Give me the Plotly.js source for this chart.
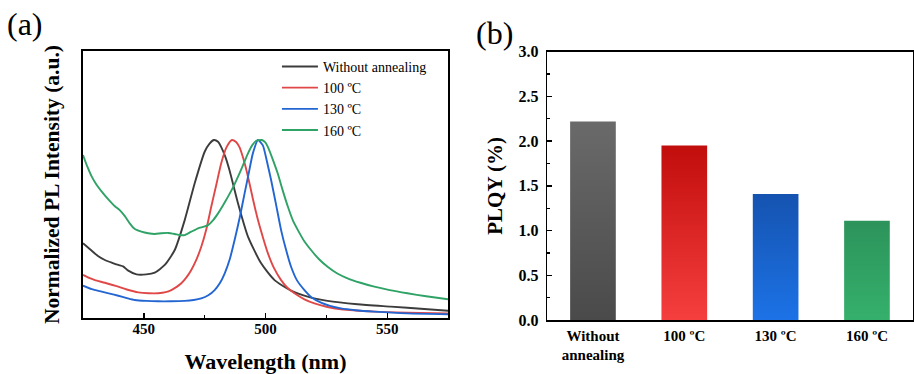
<!DOCTYPE html>
<html>
<head>
<meta charset="utf-8">
<script src="https://cdn.plot.ly/plotly-3.0.1.min.js"></script>
<style>
  html, body { margin: 0; padding: 0; background: #ffffff; }
  #chart { width: 914px; height: 374px; }
</style>
</head>
<body>
<div id="chart"></div>
<script>
// ---------- Panel (a): normalized PL spectra ----------
const seriesNames = ["Without annealing", "100 \u00baC", "130 \u00baC", "160 \u00baC"];

const wlWithout = [425, 428, 431, 434, 437, 439.5, 441.5, 443.6, 447, 451, 454.5, 458.6, 462.7, 466.8, 470.9, 475, 477, 478.8, 480.5, 481.8, 483.5, 485.2, 488.7, 492.8, 498.2, 503.7, 510.5, 517.3, 525.5, 537.8, 551.5, 565.2, 575];
const plWithout = [0.42, 0.385, 0.35, 0.326, 0.31, 0.298, 0.29, 0.266, 0.245, 0.245, 0.255, 0.298, 0.382, 0.55, 0.757, 0.934, 0.98, 1.0, 0.99, 0.96, 0.905, 0.83, 0.644, 0.457, 0.307, 0.213, 0.154, 0.12, 0.096, 0.077, 0.064, 0.051, 0.041];

const wl100 = [425, 427.5, 429.9, 434, 439.5, 443, 447.7, 452, 455.9, 459, 461.3, 463.5, 465.4, 467.5, 469.5, 471.5, 473.6, 475.7, 477.7, 479.8, 481.8, 484, 486.2, 487.8, 489.3, 491, 492.8, 494.8, 496.9, 499, 501, 503.5, 506.4, 509, 511.9, 516, 520.1, 525, 531, 544.7, 558.3, 575];
const pl100 = [0.242, 0.225, 0.213, 0.198, 0.176, 0.16, 0.144, 0.139, 0.139, 0.145, 0.157, 0.175, 0.195, 0.228, 0.27, 0.325, 0.40, 0.5, 0.625, 0.75, 0.87, 0.96, 1.0, 0.99, 0.96, 0.89, 0.794, 0.67, 0.55, 0.45, 0.363, 0.28, 0.213, 0.17, 0.139, 0.105, 0.082, 0.063, 0.049, 0.036, 0.030, 0.026];

const wl130 = [425, 428.6, 432.7, 436, 439.5, 443, 446.3, 451, 455.9, 461, 466.8, 470.5, 473.6, 476.5, 479.1, 481.2, 483.2, 485.3, 487.3, 489.4, 491.4, 493.2, 494.8, 496.9, 498.9, 500.5, 502.3, 504.3, 506.4, 508.5, 510.5, 513, 516, 519, 522.8, 526.5, 531, 537, 544.7, 558.3, 575];
const pl130 = [0.182, 0.162, 0.148, 0.137, 0.125, 0.112, 0.101, 0.096, 0.094, 0.094, 0.096, 0.101, 0.11, 0.128, 0.157, 0.195, 0.25, 0.33, 0.438, 0.565, 0.70, 0.82, 0.925, 1.0, 0.97, 0.885, 0.775, 0.64, 0.494, 0.38, 0.288, 0.21, 0.157, 0.115, 0.086, 0.068, 0.054, 0.044, 0.036, 0.026, 0.021];

const wl160 = [425, 426.8, 428.6, 430.5, 432.7, 435.5, 438.1, 440.2, 442.2, 444.2, 446.3, 449, 451.8, 454.5, 457.2, 460, 462.7, 464.7, 466.8, 469.5, 472.3, 474.3, 476.4, 478.5, 480.5, 482.5, 484.6, 486.7, 488.7, 490.8, 492.8, 494.5, 496.2, 498.5, 500, 501, 503, 505, 507, 509.2, 511.2, 513.3, 516, 518.7, 522, 525.5, 529.5, 533.7, 539, 544.7, 551, 558.3, 566, 575];
const pl160 = [0.916, 0.85, 0.794, 0.75, 0.71, 0.665, 0.628, 0.605, 0.572, 0.532, 0.5, 0.485, 0.476, 0.472, 0.476, 0.478, 0.472, 0.466, 0.466, 0.485, 0.504, 0.512, 0.522, 0.55, 0.588, 0.632, 0.682, 0.735, 0.794, 0.86, 0.925, 0.97, 0.996, 1.0, 0.985, 0.96, 0.89, 0.813, 0.72, 0.625, 0.55, 0.494, 0.43, 0.382, 0.33, 0.288, 0.25, 0.223, 0.198, 0.176, 0.157, 0.139, 0.122, 0.105];

const wlTicks = [450, 500, 550];

// ---------- Panel (b): PLQY bars ----------
const plqyCategories = ["Without<br>annealing", "100 \u00baC", "130 \u00baC", "160 \u00baC"];
const plqyValues = [2.22, 1.95, 1.41, 1.11];
const plqyTicks = [0, 0.5, 1.0, 1.5, 2.0, 2.5, 3.0];

// colours
const lineColors = ["#3c3c3c", "#e04848", "#2366d2", "#2fa266"];
const barMidColors = ["#5a5a5a", "#df2e2e", "#1865cc", "#31a363"];
const barTopColors = ["#6a6a6a", "#c20d0d", "#1553b0", "#2c935a"];
const barBottomColors = ["#4a4a4a", "#f53f3f", "#1c72e6", "#35b06c"];

const serif = "Liberation Serif";

const specX = [wlWithout, wl100, wl130, wl160];
const specY = [plWithout, pl100, pl130, pl160];

const traces = specX.map((xs, i) => ({
  type: "scatter",
  mode: "lines",
  x: xs,
  y: specY[i],
  name: seriesNames[i],
  line: { color: lineColors[i], width: 1.9, shape: "spline", smoothing: 0.6 },
  xaxis: "x",
  yaxis: "y"
}));

traces.push({
  type: "bar",
  x: plqyCategories,
  y: plqyValues,
  width: 0.5,
  marker: { color: barMidColors, line: { width: 0 } },
  showlegend: false,
  xaxis: "x2",
  yaxis: "y2",
  hoverinfo: "x+y"
});

const axisLine = { showline: true, linecolor: "#000", linewidth: 1.6, mirror: true, zeroline: false, showgrid: false };

const layout = {
  width: 914,
  height: 374,
  margin: { l: 0, r: 0, t: 0, b: 0 },
  paper_bgcolor: "#ffffff",
  plot_bgcolor: "#ffffff",
  font: { family: serif, color: "#000" },
  showlegend: true,
  legend: {
    x: 0.303, y: 0.864, xanchor: "left", yanchor: "top",
    bgcolor: "rgba(0,0,0,0)",
    font: { family: serif, size: 14, color: "#000" },
    tracegroupgap: 0,
    itemwidth: 36
  },
  xaxis: Object.assign({}, axisLine, {
    domain: [0.0908, 0.4902],
    range: [425, 575],
    tickvals: wlTicks,
    ticks: "inside", ticklen: 5, tickwidth: 1.4, tickcolor: "#000",
    minor: { dtick: 25, ticks: "inside", ticklen: 3, tickwidth: 1.2, tickcolor: "#000" },
    tickfont: { family: serif, size: 15, weight: "bold" },
    ticklabelstandoff: -4,
    title: { text: "Wavelength (nm)", font: { family: serif, size: 22, weight: "bold" }, standoff: 22 },
    anchor: "y"
  }),
  yaxis: Object.assign({}, axisLine, {
    domain: [0.1497, 0.8636],
    range: [0, 1.5],
    showticklabels: false,
    ticks: "",
    title: { text: "Normalized PL Intensity (a.u.)", font: { family: serif, size: 21.5, weight: "bold" }, standoff: 16 },
    anchor: "x"
  }),
  xaxis2: Object.assign({}, axisLine, {
    domain: [0.5988, 0.9985],
    range: [-0.5, 3.5],
    ticks: "",
    tickfont: { family: serif, size: 15, weight: "bold" },
    ticklabelstandoff: 1,
    anchor: "y2"
  }),
  yaxis2: Object.assign({}, axisLine, {
    domain: [0.1444, 0.8618],
    range: [0, 3.0],
    tickvals: plqyTicks,
    tickformat: ".1f",
    ticks: "inside", ticklen: 5, tickwidth: 1.4, tickcolor: "#000",
    minor: { dtick: 0.25, ticks: "inside", ticklen: 3, tickwidth: 1.2, tickcolor: "#000" },
    tickfont: { family: serif, size: 16, weight: "bold" },
    ticklabelstandoff: 4,
    title: { text: "PLQY (%)", font: { family: serif, size: 21, weight: "bold" }, standoff: 10 },
    anchor: "x2"
  }),
  annotations: [
    { text: "(a)", xref: "paper", yref: "paper", x: 0.027, y: 0.935, xanchor: "center", yanchor: "middle",
      showarrow: false, font: { family: serif, size: 32, color: "#000" } },
    { text: "(b)", xref: "paper", yref: "paper", x: 0.5415, y: 0.912, xanchor: "center", yanchor: "middle",
      showarrow: false, font: { family: serif, size: 32, color: "#000" } }
  ]
};

Plotly.newPlot("chart", traces, layout, { displayModeBar: false, staticPlot: true }).then(() => {
  // apply vertical colour gradients to the bars Plotly drew
  const ns = "http://www.w3.org/2000/svg";
  const svg = document.querySelector("#chart .main-svg");
  let defs = svg.querySelector("defs");
  if (!defs) { defs = document.createElementNS(ns, "defs"); svg.insertBefore(defs, svg.firstChild); }
  const paths = document.querySelectorAll("#chart .barlayer .point path");
  paths.forEach((p, i) => {
    const g = document.createElementNS(ns, "linearGradient");
    g.setAttribute("id", "barGrad" + i);
    g.setAttribute("x1", "0"); g.setAttribute("y1", "0");
    g.setAttribute("x2", "0"); g.setAttribute("y2", "1");
    const s1 = document.createElementNS(ns, "stop");
    s1.setAttribute("offset", "0"); s1.setAttribute("stop-color", barTopColors[i]);
    const s2 = document.createElementNS(ns, "stop");
    s2.setAttribute("offset", "1"); s2.setAttribute("stop-color", barBottomColors[i]);
    g.appendChild(s1); g.appendChild(s2);
    defs.appendChild(g);
    p.style.fill = "url(#barGrad" + i + ")";
  });
});
</script>
</body>
</html>
